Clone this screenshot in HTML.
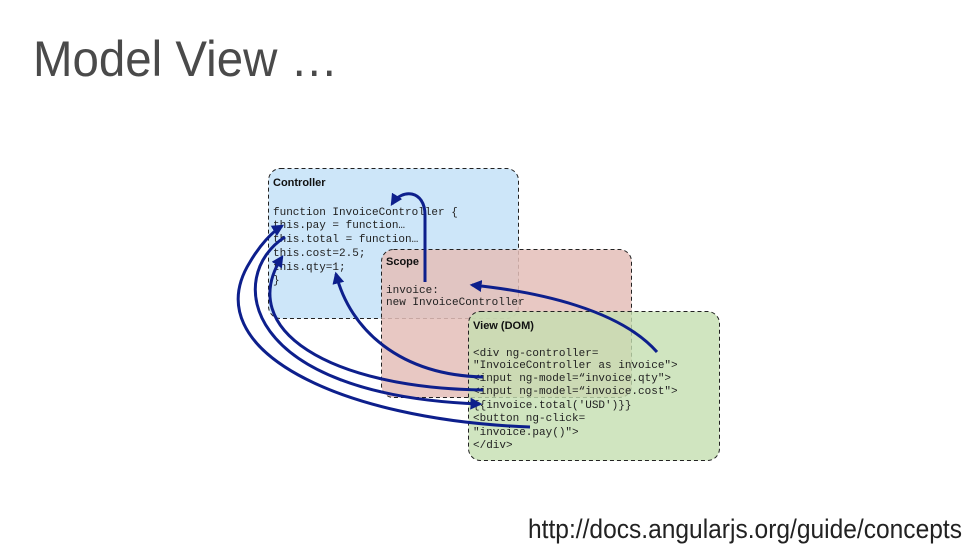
<!DOCTYPE html>
<html><head><meta charset="utf-8"><style>
html,body{margin:0;padding:0;background:#fff;}
svg{display:block;}
.m{font-family:"Liberation Mono",monospace;font-size:11px;fill:#222;}
.b{font-family:"Liberation Sans",sans-serif;font-size:11px;font-weight:bold;fill:#111;}
</style></head><body>
<svg width="979" height="551" viewBox="0 0 979 551" xmlns="http://www.w3.org/2000/svg">
<defs>
<marker id="ah" viewBox="0 0 10 10" refX="8" refY="5" markerWidth="4" markerHeight="4" orient="auto-start-reverse">
<path d="M0,0 L10,5 L0,10 z" fill="#0d1f8c"/></marker>
</defs>
<text x="33" y="76" font-family="Liberation Sans,sans-serif" font-size="50" fill="#4a4a4a" textLength="305" lengthAdjust="spacingAndGlyphs">Model View …</text>

<rect x="268.5" y="168.5" width="250" height="150" rx="12" fill="#cde6f9" stroke="#222" stroke-dasharray="4,3"/>
<rect x="381.5" y="249.5" width="250" height="148" rx="12" fill="rgba(228,190,185,0.85)" stroke="#222" stroke-dasharray="4,3"/>
<rect x="468.5" y="311.5" width="251" height="149" rx="12" fill="rgba(196,222,176,0.8)" stroke="#222" stroke-dasharray="4,3"/>

<text class="b" x="273" y="186">Controller</text>
<text class="m" x="273" y="215">function InvoiceController {</text>
<text class="m" x="273" y="228">  this.pay = function…</text>
<text class="m" x="273" y="242">  this.total = function…</text>
<text class="m" x="273" y="256">  this.cost=2.5;</text>
<text class="m" x="273" y="270">  this.qty=1;</text>
<text class="m" x="273" y="283">}</text>

<text class="b" x="386" y="265">Scope</text>
<text class="m" x="386" y="293">invoice:</text>
<text class="m" x="386" y="305">  new InvoiceController</text>

<text class="b" x="473" y="329">View (DOM)</text>
<text class="m" x="473" y="356">&lt;div ng-controller=</text>
<text class="m" x="473" y="368">  "InvoiceController as invoice"&gt;</text>
<text class="m" x="473" y="381">  &lt;input ng-model=“invoice.qty"&gt;</text>
<text class="m" x="473" y="394">  &lt;input ng-model=“invoice.cost"&gt;</text>
<text class="m" x="473" y="408">  {{invoice.total('USD')}}</text>
<text class="m" x="473" y="421">  &lt;button ng-click=</text>
<text class="m" x="473" y="435">         "invoice.pay()"&gt;</text>
<text class="m" x="473" y="448">&lt;/div&gt;</text>

<g fill="none" stroke="#0d1f8c" stroke-width="3" marker-end="url(#ah)">
<path d="M425,282 L425,215 C425,190 402,188 392,204"/>
<path d="M657,352 C620,310 540,292 472,285"/>
<path d="M483,377 C400,375 350,330 336,274"/>
<path d="M483,390 C330,388 235,330 282,257"/>
<path d="M285,237 C225,275 240,395 480,404"/>
<path d="M530,427 C340,420 195,350 250,262 C260,245 272,232 282,226"/>
</g>

<text x="528" y="538" font-family="Liberation Sans,sans-serif" font-size="27" fill="#222" textLength="434" lengthAdjust="spacingAndGlyphs">http://docs.angularjs.org/guide/concepts</text>
</svg>
</body></html>
